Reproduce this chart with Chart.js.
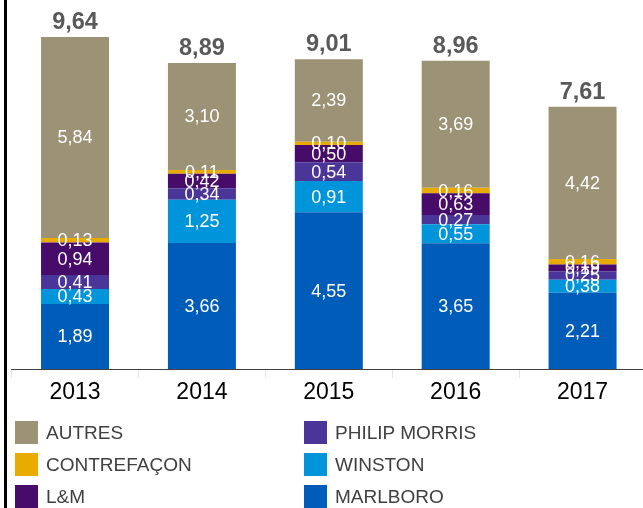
<!DOCTYPE html>
<html><head><meta charset="utf-8">
<script src="https://cdn.jsdelivr.net/npm/chart.js@4"></script>
<style>
html,body{margin:0;padding:0;background:#fff;width:643px;height:508px;overflow:hidden;font-family:"Liberation Sans",Arial,sans-serif;}
#wrap{position:absolute;left:0;top:0;width:646px;height:508px;}
#axisline{position:absolute;left:4px;top:0;width:3px;height:508px;background:#000;}
.leg{position:absolute;height:23px;line-height:23px;font-size:19px;color:#404040;white-space:nowrap;}
.leg span{display:inline-block;width:23px;height:23px;vertical-align:top;margin-right:8px;}
</style></head><body>
<div id="wrap"><canvas id="c" width="646" height="508"></canvas></div>
<div id="axisline"></div>
<div id="legend"></div>
<script>
const years = ['2013','2014','2015','2016','2017'];
const marlboro = [1.89,3.66,4.55,3.65,2.21];
const winston = [0.43,1.25,0.91,0.55,0.38];
const philipMorris = [0.41,0.34,0.54,0.27,0.25];
const lm = [0.94,0.42,0.50,0.63,0.19];
const contrefacon = [0.13,0.11,0.10,0.16,0.16];
const autres = [5.84,3.10,2.39,3.69,4.42];
const totals = [9.64,8.89,9.01,8.96,7.61];

const seriesNames = ['MARLBORO','WINSTON','PHILIP MORRIS','L&M','CONTREFAÇON','AUTRES'];
const seriesData = [marlboro, winston, philipMorris, lm, contrefacon, autres];
const seriesColors = ['#005cb9','#0095da','#4a3698','#470b69','#eaab00','#9c9275'];

const fmt = v => v.toFixed(2).replace('.', ',');

const labelPlugin = {
  id: 'valueLabels',
  afterDatasetsDraw(chart) {
    const ctx = chart.ctx;
    ctx.save();
    ctx.textAlign = 'center';
    ctx.textBaseline = 'middle';
    ctx.fillStyle = '#ffffff';
    ctx.font = '18px "Liberation Sans", Arial, sans-serif';
    chart.data.datasets.forEach((ds, di) => {
      const meta = chart.getDatasetMeta(di);
      meta.data.forEach((el, i) => {
        const mid = (el.y + el.base) / 2;
        ctx.fillText(fmt(ds.data[i]), el.x, mid + 1);
      });
    });
    const topMeta = chart.getDatasetMeta(chart.data.datasets.length - 1);
    ctx.fillStyle = '#595959';
    ctx.font = 'bold 23.5px "Liberation Sans", Arial, sans-serif';
    ctx.textBaseline = 'alphabetic';
    topMeta.data.forEach((el, i) => {
      ctx.fillText(fmt(totals[i]), el.x, el.y - 8);
    });
    ctx.restore();
  }
};

new Chart(document.getElementById('c'), {
  type: 'bar',
  data: {
    labels: years,
    datasets: seriesNames.map((n, i) => ({
      label: n,
      data: seriesData[i],
      backgroundColor: seriesColors[i],
      borderWidth: 0,
      categoryPercentage: 1,
      barPercentage: 0.536
    }))
  },
  options: {
    responsive: false,
    devicePixelRatio: 1,
    animation: false,
    layout: { padding: { left: 11.6, right: 0, top: 0, bottom: 99 } },
    plugins: { legend: { display: false }, tooltip: { enabled: false } },
    scales: {
      x: {
        stacked: true,
        afterFit: s => { s.height = 40; },
        grid: { display: true, offset: true, drawOnChartArea: false, drawTicks: true, tickLength: 9, color: '#e4e4e4' },
        border: { display: true, color: '#404040', width: 1 },
        ticks: { color: '#000', padding: 1, font: { size: 23, family: '"Liberation Sans", Arial, sans-serif' } }
      },
      y: { stacked: true, display: false, min: 0, max: 369 / 34.45 }
    }
  },
  plugins: [labelPlugin]
});

const legendOrder = [[5, 4, 3], [2, 1, 0]];
const legCols = [15, 304];
const legRows = [421, 453, 485];
const legEl = document.getElementById('legend');
legendOrder.forEach((col, ci) => {
  col.forEach((si, ri) => {
    const d = document.createElement('div');
    d.className = 'leg';
    d.style.left = legCols[ci] + 'px';
    d.style.top = legRows[ri] + 'px';
    const sw = document.createElement('span');
    sw.style.background = seriesColors[si];
    d.appendChild(sw);
    d.appendChild(document.createTextNode(seriesNames[si]));
    legEl.appendChild(d);
  });
});
</script>
</body></html>
